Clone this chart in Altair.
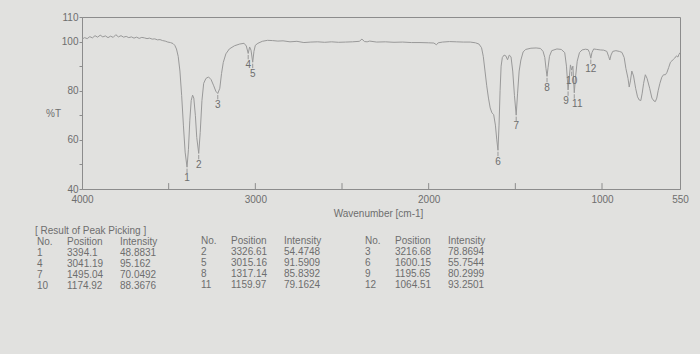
import altair as alt
import pandas as pd

# ---- spectrum (wavenumber cm-1, %T) ----
wn = [4000, 3985, 3970, 3955, 3940, 3925, 3910, 3895, 3880, 3865, 3850, 3835, 3820, 3805, 3790,
      3775, 3760, 3745, 3730, 3715, 3700, 3685, 3670, 3655, 3640, 3625, 3610, 3595, 3580, 3565,
      3550, 3535, 3520, 3505, 3490, 3475, 3465, 3455, 3445, 3435, 3425, 3415, 3405, 3394.1,
      3386, 3378, 3370, 3362, 3355, 3346, 3338, 3326.61, 3318, 3308, 3298, 3285, 3270, 3255,
      3240, 3228, 3216.68, 3205, 3195, 3185, 3170, 3150, 3120, 3090, 3065, 3052, 3041.19, 3033,
      3025, 3015.16, 3008, 3000, 2985, 2960, 2930, 2900, 2870, 2840, 2800, 2760, 2720, 2680,
      2640, 2600, 2560, 2520, 2480, 2440, 2400, 2385, 2370, 2355, 2340, 2300, 2250, 2200, 2150,
      2100, 2050, 2000, 1970, 1955, 1945, 1920, 1880, 1840, 1800, 1760, 1730, 1710, 1695, 1685,
      1675, 1665, 1655, 1645, 1635, 1625, 1615, 1607, 1600.15, 1594, 1588, 1582, 1575, 1565,
      1555, 1545, 1535, 1525, 1515, 1505, 1495.04, 1487, 1478, 1468, 1455, 1440, 1410, 1380,
      1355, 1340, 1330, 1323, 1317.14, 1311, 1303, 1290, 1260, 1235, 1215, 1205, 1195.65, 1188,
      1182, 1174.92, 1168, 1159.97, 1152, 1143, 1130, 1115, 1095, 1080, 1072, 1064.51, 1058,
      1048, 1030, 1010, 990, 972, 962, 955, 948, 938, 920, 900, 885, 872, 862, 850, 843, 836,
      828, 818, 806, 795, 785, 776, 768, 760, 750, 740, 725, 712, 700, 692, 684, 676, 666, 655,
      645, 634, 625, 615, 605, 597, 588, 580, 570, 562, 556, 550]
trans = [101.0, 101.6, 101.2, 102.0, 101.5, 102.4, 101.8, 102.6, 101.9, 102.3, 101.6, 102.2, 101.7, 102.8, 101.9,
         102.4, 101.8, 102.1, 101.6, 101.9, 101.4, 101.8, 101.3, 101.7, 101.5, 101.2, 101.4, 101.0, 101.1, 100.7,
         100.8, 100.4, 100.2, 99.8, 99.6, 99.2, 98.5, 97.0, 94.0, 88.0, 78.0, 66.0, 55.0, 48.8831,
         56, 68, 76, 78.2, 77, 70, 61, 54.4748, 63, 76, 83, 85, 85.6, 84.5,
         82, 79.8, 78.8694, 81, 87, 91.5, 95, 97, 98.3, 99, 99.3, 98.2, 95.162, 97.8,
         96.5, 91.5909, 96, 98.5, 99.3, 100.1, 100.5, 100.4, 100.2, 100.3, 99.9, 100.1, 99.6, 99.8,
         99.9, 99.7, 99.9, 99.7, 99.8, 99.9, 100.1, 101.0, 100.0, 99.9, 100.2, 99.8, 99.9, 99.7, 99.8,
         99.6, 99.6, 99.5, 99.4, 98.7, 99.5, 99.8, 100.0, 99.9, 99.8, 99.8, 99.5, 99.0, 97.5, 94,
         88, 82, 77, 73, 71, 70.3, 66, 60, 55.7544, 66, 80, 90, 93.5, 94.5,
         94.2, 92.6, 94.5, 93.8, 88, 78, 70.0492, 79, 88, 92.5, 95.8, 96.8, 97.3, 97.4,
         97.2, 96, 93.5, 89, 85.8392, 89.5, 94, 96.3, 97, 96.8, 95.5, 90, 80.2999, 86,
         90.5, 88.3676, 90, 79.1624, 86, 92, 95.5, 96.6, 96.9, 96.7, 95.5, 93.2501, 95.5,
         97, 96.8, 96.6, 96.5, 96, 94, 92.5, 94.5, 96, 96.3, 96, 95.6, 93.5, 89, 85, 81.5, 84,
         88, 86, 81, 77.5, 76.2, 76, 79, 83, 86.5, 85, 81, 77, 75.8, 75.6, 77, 80, 83, 85.5,
         86.5, 86.5, 87.5, 89.5, 91.6, 92.1, 92.8, 93.3, 94.2, 93.7, 94.8, 95.5]

# ---- peak picking table ----
peak_no = [1, 2, 3, 4, 5, 6, 7, 8, 9, 10, 11, 12]
peak_pos = [3394.1, 3326.61, 3216.68, 3041.19, 3015.16, 1600.15, 1495.04, 1317.14, 1195.65, 1174.92, 1159.97, 1064.51]
peak_int = [48.8831, 54.4748, 78.8694, 95.162, 91.5909, 55.7544, 70.0492, 85.8392, 80.2999, 88.3676, 79.1624, 93.2501]
table_title = "[ Result of Peak Picking ]"
table_headers = ["No.", "Position", "Intensity"]

x_label_values = [4000, 3000, 2000, 1000, 550]
x_tick_values = [3500, 3000, 2500, 2000, 1500, 1000]
y_tick_values = [40, 50, 60, 70, 80, 90, 100, 110]

TEXT = "#6e6e6e"
LINE = "#999999"
FRAME = "#8c8c8c"
FONT = "Liberation Sans"

W, H = 598, 172
OX, OY = 82, 17

spec_df = pd.DataFrame({"wn": wn, "T": trans, "idx": range(len(wn))})
peaks_df = pd.DataFrame({"no": [str(n) for n in peak_no], "wn": peak_pos, "T": peak_int})
xt_df = pd.DataFrame({"wn": x_tick_values})

# table layout (page pixel positions relative to plot origin)
col_x = [37, 67, 120]
rows = [{"t": table_title, "px": 35 - OX, "py": 231 - OY}]
for g in range(3):
    for c, h in enumerate(table_headers):
        rows.append({"t": h, "px": col_x[c] + 164 * g - OX, "py": 242 - OY - 0.6 * g})
for i, (n, p, v) in enumerate(zip(peak_no, peak_pos, peak_int)):
    g, r = i % 3, i // 3
    for c, s in enumerate([str(n), repr(p), repr(v)]):
        rows.append({"t": s, "px": col_x[c] + 164 * g - OX, "py": 253 + 11 * r - OY - 0.6 * g})
table_df = pd.DataFrame(rows)

xscale = alt.Scale(domain=[550, 4000], reverse=True, nice=False, zero=False)
yscale = alt.Scale(domain=[40, 110], nice=False, zero=False)

xaxis = alt.Axis(values=x_label_values, ticks=False, grid=False, labelFlush=False,
                 labelOverlap=False, labelPadding=5, labelFontSize=10, labelFont=FONT,
                 labelColor=TEXT, domainColor=FRAME, title="Wavenumber [cm-1]", titleFont=FONT,
                 titleFontSize=10, titleFontWeight="normal", titleColor=TEXT,
                 titleX=296, titleY=24, titleBaseline="middle", titleAlign="center",
                 format="d")
yaxis = alt.Axis(values=y_tick_values, grid=False, tickSize=3, tickColor=FRAME,
                 labelOverlap=False, labelFlush=False, labelBound=False,
                 labelPadding=1, labelFontSize=10, labelFont=FONT, labelColor=TEXT,
                 labelExpr="(datum.value == 50 || datum.value == 70 || datum.value == 90) ? '' : datum.label",
                 domainColor=FRAME, title="%T", titleAngle=0, titleFont=FONT,
                 titleFontSize=10, titleFontWeight="normal", titleColor=TEXT,
                 titleX=-29, titleY=96, titleBaseline="middle", titleAlign="center")

spectrum = alt.Chart(spec_df).mark_line(color=LINE, strokeWidth=1).encode(
    x=alt.X("wn:Q", scale=xscale, axis=xaxis),
    y=alt.Y("T:Q", scale=yscale, axis=yaxis),
    order="idx:Q",
)

xticks = alt.Chart(xt_df).mark_rule(color=FRAME, strokeWidth=1).encode(
    x=alt.X("wn:Q", scale=xscale, axis=xaxis),
    y=alt.YDatum(40, scale=yscale, axis=yaxis),
    y2=alt.datum(42.4),
)

peak_marks = alt.Chart(peaks_df).transform_calculate(
    y1="datum.T - 0.6", y2="datum.T - 2.4", ly="datum.T - 4.6"
)
peak_rules = peak_marks.mark_rule(color=LINE, strokeWidth=1).encode(
    x=alt.X("wn:Q", scale=xscale, axis=xaxis),
    y=alt.Y("y1:Q", scale=yscale, axis=yaxis),
    y2="y2:Q",
)


def label_layer(filter_expr, dx):
    return peak_marks.transform_filter(filter_expr).mark_text(
        fontSize=10, font=FONT, color=TEXT, baseline="middle", dx=dx
    ).encode(
        x=alt.X("wn:Q", scale=xscale, axis=xaxis),
        y=alt.Y("ly:Q", scale=yscale, axis=yaxis),
        text="no:N",
    )


labels_main = label_layer("datum.no != '9' && datum.no != '11'", 0)
labels_9 = label_layer("datum.no == '9'", -2)
labels_11 = label_layer("datum.no == '11'", 3)

table = alt.Chart(table_df).mark_text(fontSize=10, font=FONT, color=TEXT, align="left",
                                      baseline="middle").encode(
    x=alt.X("px:Q", scale=None),
    y=alt.Y("py:Q", scale=None),
    text="t:N",
)

chart = alt.layer(spectrum, xticks, peak_rules, labels_main, labels_9, labels_11, table).properties(
    width=W, height=H,
    padding={"left": OX, "top": OY, "right": 700 - OX - W, "bottom": 354 - OY - H},
    autosize=alt.AutoSizeParams(type="none"),
    background="#e1e1df",
).configure_view(stroke=FRAME, strokeWidth=1)

chart.save("out.html", embed_options={"renderer": "svg", "actions": False})
